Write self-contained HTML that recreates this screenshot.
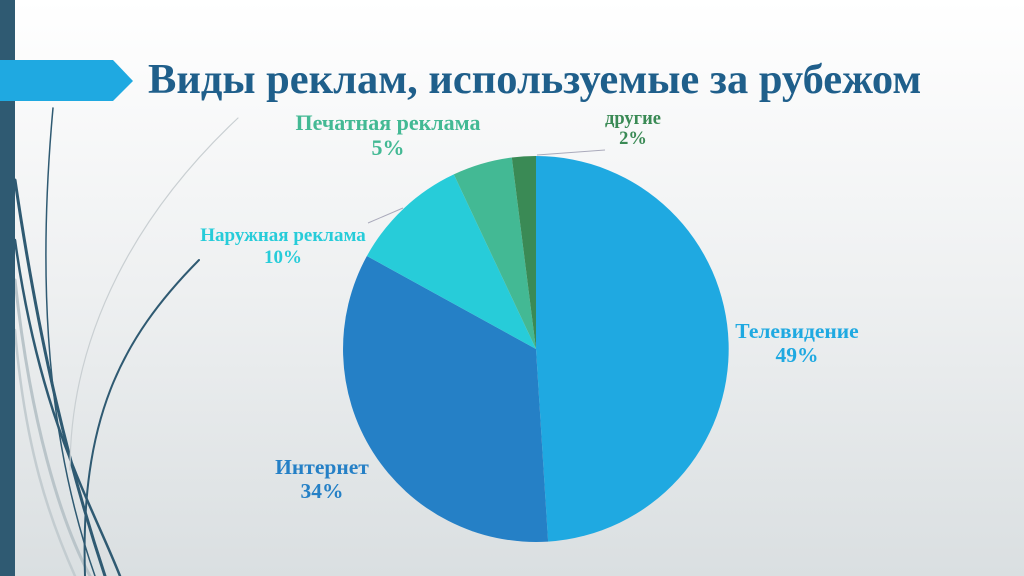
<!DOCTYPE html>
<html><head><meta charset="utf-8"><style>
html,body{margin:0;padding:0}
body{width:1024px;height:576px;overflow:hidden;background:linear-gradient(#ffffff 0%,#eef0f1 50%,#dadfe1 100%);position:relative;font-family:"Liberation Serif",serif}
.t{position:absolute;font-weight:bold;text-align:center;white-space:nowrap}
</style></head><body>
<svg width="1024" height="576" style="position:absolute;left:0;top:0">
<g fill="none" stroke-linecap="round">
<path d="M53 108 C40 250 40 420 95 576" stroke="#2f5a72" stroke-width="1.5"/>
<path d="M15 180 C40 350 70 470 105 576" stroke="#2f5a72" stroke-width="3"/>
<path d="M15 240 C40 420 90 500 120 576" stroke="#2f5a72" stroke-width="2.5"/>
<path d="M15 280 C30 420 60 520 90 576" stroke="#b9c4c9" stroke-width="3"/>
<path d="M15 330 C25 450 50 520 75 576" stroke="#c3ccd0" stroke-width="2.5"/>
<path d="M238 118 C140 210 70 330 70 470" stroke="#c9cfd2" stroke-width="1.2"/>
<path d="M199 260 C120 340 80 420 85 576" stroke="#2f5a72" stroke-width="2"/>
</g>
<rect x="0" y="0" width="15" height="576" fill="#2f5a72"/>
<polygon points="0,60 113,60 133,81 113,101 0,101" fill="#1fa9e1"/>
<path d="M536 349 L536 156 A193 193 0 0 1 548.1 541.6 Z" fill="#1fa9e1"/>
<path d="M536 349 L548.1 541.6 A193 193 0 0 1 366.9 256 Z" fill="#2580c6"/>
<path d="M536 349 L366.9 256 A193 193 0 0 1 453.8 174.4 Z" fill="#27ccd9"/>
<path d="M536 349 L453.8 174.4 A193 193 0 0 1 511.8 157.5 Z" fill="#43b994"/>
<path d="M536 349 L511.8 157.5 A193 193 0 0 1 536 156 Z" fill="#3a8a55"/>
<line x1="537" y1="155" x2="605" y2="150" stroke="#aab" stroke-width="1"/>
<line x1="368" y1="223" x2="403" y2="208" stroke="#aab" stroke-width="1"/>
</svg>
<div style="position:absolute;left:148px;top:55px;font-size:42.5px;font-weight:bold;color:#1f5f8b;white-space:nowrap">Виды реклам, используемые за рубежом</div>
<div class="t" style="left:268px;top:110px;width:240px;color:#43b994;font-size:22px;line-height:25px">Печатная реклама<br>5%</div>
<div class="t" style="left:583px;top:109px;width:100px;color:#3a8a55;font-size:18.5px;line-height:20px">другие<br>2%</div>
<div class="t" style="left:173px;top:225px;width:220px;color:#27ccd9;font-size:19px;line-height:22px">Наружная реклама<br>10%</div>
<div class="t" style="left:717px;top:319px;width:160px;color:#1fa9e1;font-size:21.5px;line-height:24px">Телевидение<br>49%</div>
<div class="t" style="left:252px;top:455px;width:140px;color:#2580c6;font-size:21.5px;line-height:24px">Интернет<br>34%</div>
</body></html>
